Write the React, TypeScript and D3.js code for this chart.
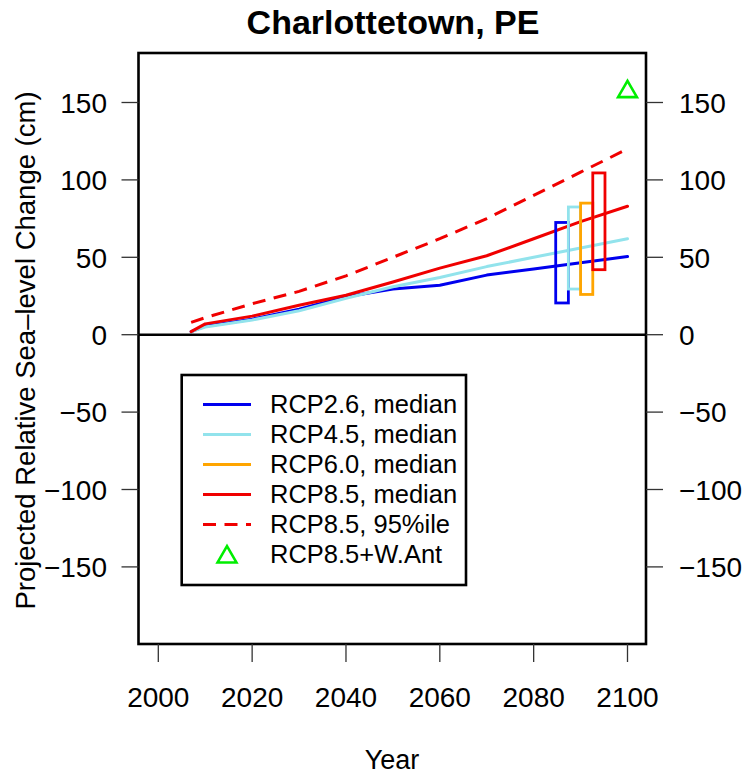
import React from "react";
import * as d3 from "d3";

// ---- data ----
const years = [2007, 2010, 2020, 2030, 2040, 2050, 2060, 2070, 2080, 2090, 2100];
const rcp26 = [2, 5.5, 10, 16.5, 24.5, 29.5, 32, 38.5, 42.5, 46.5, 50.5];
const rcp45 = [2, 5, 9.5, 15.5, 23.5, 31, 37, 44, 50, 56, 62];
const rcp85 = [2, 7, 12, 19, 25.5, 34, 43, 51, 62, 73, 83];
const rcp85p95 = [8, 11, 20, 28, 38, 50, 62, 75, 90, 105, 120];

const boxNames = ["RCP2.6", "RCP4.5", "RCP6.0", "RCP8.5"];
const boxStart = [2084.7, 2087.4, 2090.0, 2092.6];
const boxEnd = [2087.4, 2090.0, 2092.6, 2095.2];
const boxLow = [20.5, 29.5, 26, 42];
const boxHigh = [72.5, 82.5, 85, 104.5];

const wantYear = 2100;
const wantValue = 157;

const xTicks = [2000, 2020, 2040, 2060, 2080, 2100];
const yTicks = [-150, -100, -50, 0, 50, 100, 150];

const legendLabels = [
  "RCP2.6, median",
  "RCP4.5, median",
  "RCP6.0, median",
  "RCP8.5, median",
  "RCP8.5, 95%ile",
  "RCP8.5+W.Ant",
];

const BLUE = "#0000EE";
const CYAN = "#92E3EC";
const ORANGE = "#FFA500";
const RED = "#F00000";
const GREEN = "#00EE00";
const boxColors = [BLUE, CYAN, ORANGE, RED];

const FONT = "'Liberation Sans', Arial, Helvetica, sans-serif";

export default function App() {
  const W = 744;
  const H = 776;
  const left = 138.5;
  const right = 646;
  const top = 53;
  const bottom = 644;

  const x = d3.scaleLinear().domain([2000, 2100]).range([158.3, 627.5]);
  const y = d3.scaleLinear().domain([0, 150]).range([334.7, 102.5]);

  const line = d3
    .line<number>()
    .x((_, i) => x(years[i]))
    .y((d) => y(d));

  const tri = (cx: number, cy: number, u: number) => {
    const r = 1.555 * u;
    const xc = 1.347 * u;
    const yc = 0.778 * u;
    return `M${cx},${cy - r}L${cx + xc},${cy + yc}L${cx - xc},${cy + yc}Z`;
  };

  const lgLeft = 181.7;
  const lgTop = 375;
  const lgRight = 466;
  const lgBottom = 585;
  const lgRow0 = 404.5;
  const lgStep = 30;
  const lgX0 = 203;
  const lgX1 = 251;
  const lgText = 270;

  const series = [
    { v: rcp26, c: BLUE },
    { v: rcp45, c: CYAN },
    { v: rcp85, c: RED },
  ];

  return (
    <svg
      width={W}
      height={H}
      style={{ position: "absolute", left: 0, top: 0, background: "#fff" }}
      fontFamily={FONT}
    >
      <rect x={0} y={0} width={W} height={H} fill="#fff" />
      {/* title */}
      <text x={393} y={33.5} fontSize={34} fontWeight="bold" textAnchor="middle" fill="#000">
        Charlottetown, PE
      </text>

      {/* lines */}
      {series.map((s, i) => (
        <path key={i} d={line(s.v) || ""} fill="none" stroke={s.c} strokeWidth={3} strokeLinejoin="round" strokeLinecap="round" />
      ))}
      <path
        d={line(rcp85p95) || ""}
        fill="none"
        stroke={RED}
        strokeWidth={3}
        strokeDasharray="13,8.5"
      />

      {/* range boxes */}
      {boxNames.map((n, i) => (
        <rect
          key={n}
          x={x(boxStart[i])}
          y={y(boxHigh[i])}
          width={x(boxEnd[i]) - x(boxStart[i])}
          height={y(boxLow[i]) - y(boxHigh[i])}
          fill="none"
          stroke={boxColors[i]}
          strokeWidth={2.8}
        />
      ))}

      {/* W.Ant triangle */}
      <path d={tri(x(wantYear), y(wantValue), 7)} fill="none" stroke={GREEN} strokeWidth={2.6} />

      {/* zero line */}
      <line x1={left} x2={right} y1={y(0)} y2={y(0)} stroke="#000" strokeWidth={2.6} />

      {/* frame */}
      <rect x={left} y={top} width={right - left} height={bottom - top} fill="none" stroke="#000" strokeWidth={2.6} />

      {/* y axes */}
      {yTicks.map((t) => (
        <g key={t}>
          <line x1={left - 17} x2={left} y1={y(t)} y2={y(t)} stroke="#333" strokeWidth={1.3} />
          <text x={107} y={y(t) + 10.3} fontSize={28} textAnchor="end" fill="#000">
            {t < 0 ? "\u2212" + Math.abs(t) : String(t)}
          </text>
          <line x1={right} x2={right + 17} y1={y(t)} y2={y(t)} stroke="#333" strokeWidth={1.3} />
          <text x={679} y={y(t) + 10.3} fontSize={28} textAnchor="start" fill="#000">
            {t < 0 ? "\u2212" + Math.abs(t) : String(t)}
          </text>
        </g>
      ))}

      {/* x axis */}
      {xTicks.map((t) => (
        <g key={t}>
          <line x1={x(t)} x2={x(t)} y1={bottom} y2={bottom + 18} stroke="#333" strokeWidth={1.3} />
          <text x={x(t)} y={706.7} fontSize={28} textAnchor="middle" fill="#000">
            {t}
          </text>
        </g>
      ))}

      {/* axis labels */}
      <text x={392} y={769} fontSize={27} textAnchor="middle" fill="#000">
        Year
      </text>
      <text
        transform={`translate(34.5,${(top + bottom) / 2 + 2}) rotate(-90)`}
        fontSize={27.5}
        textAnchor="middle"
        fill="#000"
      >
        Projected Relative Sea–level Change (cm)
      </text>

      {/* legend */}
      <rect x={lgLeft} y={lgTop} width={lgRight - lgLeft} height={lgBottom - lgTop} fill="#fff" stroke="#000" strokeWidth={2.6} />
      {legendLabels.map((lab, i) => {
        const ry = lgRow0 + i * lgStep;
        let sym: React.ReactNode = null;
        if (i < 4) {
          sym = <line x1={lgX0} x2={lgX1} y1={ry} y2={ry} stroke={boxColors[i]} strokeWidth={3} />;
        } else if (i === 4) {
          sym = <line x1={lgX0} x2={lgX1} y1={ry} y2={ry} stroke={RED} strokeWidth={3} strokeDasharray="13,8.5" />;
        } else {
          sym = <path d={tri((lgX0 + lgX1) / 2, ry + 2.5, 7)} fill="none" stroke={GREEN} strokeWidth={2.6} />;
        }
        return (
          <g key={lab}>
            {sym}
            <text x={lgText} y={ry + 8.5} fontSize={25.5} fill="#000">
              {lab}
            </text>
          </g>
        );
      })}
    </svg>
  );
}
